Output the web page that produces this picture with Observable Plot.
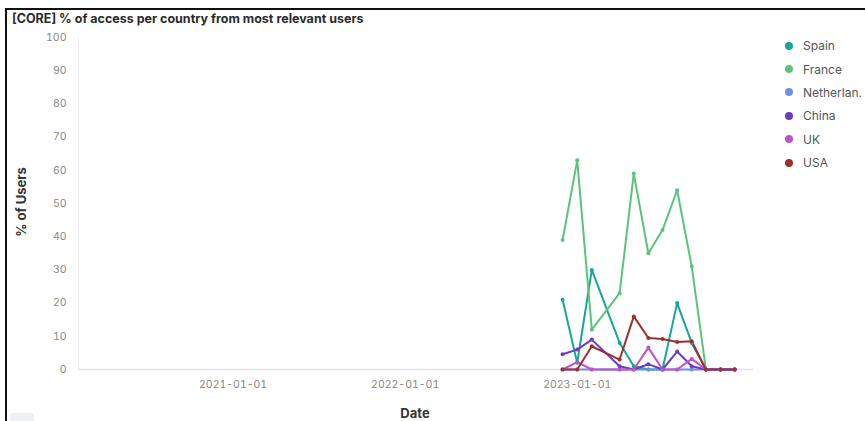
<!DOCTYPE html>
<html>
<head>
<meta charset="utf-8">
<script src="https://cdn.jsdelivr.net/npm/d3@7"></script>
<script src="https://cdn.jsdelivr.net/npm/@observablehq/plot@0.6"></script>
<style>
  html, body { margin: 0; padding: 0; background: #fff; }
  #wrap { position: relative; width: 865px; height: 421px; overflow: hidden; font-family: Inter, "Noto Sans", sans-serif; }
  #chart { position: absolute; left: 0; top: 0; }
  .bl { position: absolute; left: 5px; top: 8px; width: 2px; height: 413px; background: #111; }
  .bt { position: absolute; left: 5px; top: 8px; width: 860px; height: 2px; background: #111; }
  #title { position: absolute; left: 12px; top: 11px; font-size: 12.5px; font-weight: 700; color: #2b2b2b; white-space: nowrap; }
  #ylab { position: absolute; left: 21px; top: 202px; transform: translate(-50%, -50%) rotate(-90deg); font-size: 13px; font-weight: 700; color: #333; white-space: nowrap; }
  #xlab { position: absolute; left: 415px; top: 413px; transform: translate(-50%, -50%); font-size: 13px; font-weight: 700; color: #333; }
  #legend { position: absolute; left: 785px; top: 34px; }
  .li { display: flex; align-items: center; height: 23.4px; font-size: 12px; color: #555; }
  .dot { width: 8px; height: 8px; border-radius: 50%; margin-right: 10px; }
  .btn { position: absolute; left: 10px; top: 413px; width: 24px; height: 14px; background: #eef0f5; border-radius: 3px; }
</style>
</head>
<body>
<div id="wrap">
  <div id="chart"></div>
  <div class="bl"></div>
  <div class="bt"></div>
  <div id="title">[CORE] % of access per country from most relevant users</div>
  <div id="ylab">% of Users</div>
  <div id="xlab">Date</div>
  <div id="legend"></div>
  <div class="btn"></div>
</div>
<script>
const months = ["2022-12-01","2023-01-01","2023-02-01","2023-04-01","2023-05-01","2023-06-01","2023-07-01","2023-08-01","2023-09-01","2023-10-01","2023-11-01","2023-12-01"];
const countries = ["Spain","France","Netherlan.","China","UK","USA"];
const colors = ["#16a69b","#5cc47a","#6e8fe2","#6a3cc3","#c150cc","#a02d2d"];
const spain       = [21, 2, 30, 8, 1, 0, 0, 20, 8, 0, 0, 0];
const france      = [39, 63, 12, 23, 59, 35, 42, 54, 31, 0, 0, 0];
const netherlands = [0, 0, 0, 0, 0, 0, 0, 0, 0, 0, 0, 0];
const china       = [4.6, 6, 9, 1, 0, 1.6, 0, 5.4, 1, 0, 0, 0];
const uk          = [0, 2.2, 0, 0, 0, 6.6, 0, 0, 3.2, 0, 0, 0];
const usa         = [0, 0, 7, 3, 16, 9.5, 9.2, 8.3, 8.5, 0, 0, 0];
const yTicks = [0,10,20,30,40,50,60,70,80,90,100];
const xTicks = ["2021-01-01","2022-01-01","2023-01-01"];

const series = [spain, france, netherlands, china, uk, usa];
const rows = [];
countries.forEach((c, i) => {
  months.forEach((m, j) => rows.push({country: c, date: new Date(m), value: series[i][j]}));
});

const x0 = new Date("2020-02-08"), x1 = new Date("2024-01-10");
const chart = Plot.plot({
  width: 865,
  height: 421,
  marginTop: 37,
  marginBottom: 52,
  marginLeft: 78,
  marginRight: 112,
  style: {fontFamily: "Inter, 'Noto Sans', sans-serif", fontSize: "10.5px", background: "transparent"},
  x: {type: "utc", domain: [x0, x1]},
  y: {domain: [0, 100]},
  color: {domain: countries, range: colors},
  marks: [
    Plot.ruleX([x0], {stroke: "#eeeeee"}),
    Plot.ruleY([0], {stroke: "#e4e4e4", strokeWidth: 1.5}),
    Plot.axisY({ticks: yTicks, tickSize: 0, tickPadding: 12, label: null, fill: "#888", fontSize: 10.5}),
    Plot.axisX({ticks: xTicks.map(d => new Date(d)), tickFormat: d3.utcFormat("%Y-%m-%d"), tickSize: 0, tickPadding: 11, label: null, fill: "#888", fontSize: 10.5}),
    Plot.line(rows, {x: "date", y: "value", z: "country", stroke: "country", strokeWidth: 2, curve: "linear"}),
    Plot.dot(rows, {x: "date", y: "value", fill: "country", r: 2})
  ]
});
document.getElementById("chart").appendChild(chart);

const lg = document.getElementById("legend");
countries.forEach((c, i) => {
  const d = document.createElement("div");
  d.className = "li";
  d.innerHTML = `<span class="dot" style="background:${colors[i]}"></span><span>${c}</span>`;
  lg.appendChild(d);
});
</script>
</body>
</html>
